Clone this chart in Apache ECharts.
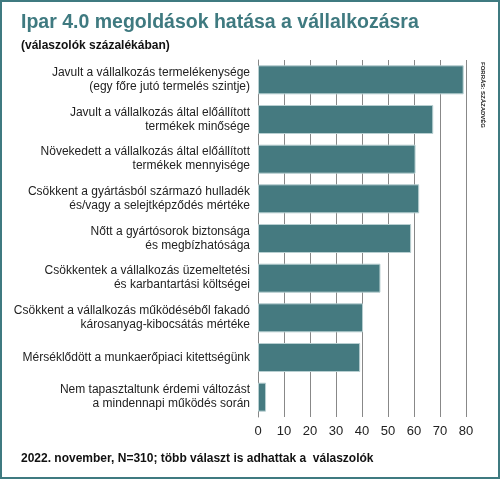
<!DOCTYPE html><html><head><meta charset="utf-8"><script src="https://cdn.jsdelivr.net/npm/echarts@6/dist/echarts.min.js"></script>
<style>body{margin:0}#c{width:500px;height:479px;box-sizing:border-box;border:2px solid #3f7a80}</style></head><body><div id="c"></div><script>
const categories=["Javult a vállalkozás termelékenysége\n(egy főre jutó termelés szintje)","Javult a vállalkozás által előállított\ntermékek minősége","Növekedett a vállalkozás által előállított\ntermékek mennyisége","Csökkent a gyártásból származó hulladék\nés/vagy a selejtképződés mértéke","Nőtt a gyártósorok biztonsága\nés megbízhatósága","Csökkentek a vállalkozás üzemeltetési\nés karbantartási költségei","Csökkent a vállalkozás működéséből fakadó\nkárosanyag-kibocsátás mértéke","Mérséklődött a munkaerőpiaci kitettségünk","Nem tapasztaltunk érdemi változást\na mindennapi működés során"];
const values=[79.1,67.4,60.6,62,58.9,47.1,40.4,39.3,3.1];
const ch=echarts.init(document.getElementById('c'));
const F='Liberation Sans, Arial, sans-serif';
ch.setOption({animation:false,
title:[{text:'Ipar 4.0 megoldások hatása a vállalkozásra',left:14,top:6,textStyle:{color:'#3f7a80',fontSize:19.5,fontWeight:'bold',fontFamily:F}},
{text:'(válaszolók százalékában)',left:14,top:33,textStyle:{color:'#111',fontSize:12,fontWeight:'bold',fontFamily:F}},
{text:'2022. november, N=310; több választ is adhattak a  válaszolók',left:14,top:446,textStyle:{color:'#111',fontSize:12,fontWeight:'bold',fontFamily:F}}],
graphic:[{type:'text',left:478,top:60,rotation:-Math.PI/2,originX:0,originY:0,style:{text:'FORRÁS: SZÁZADVÉG',fontSize:6,fontWeight:'bold',fill:'#222',fontFamily:F},x:476,y:130}],
grid:{left:256,right:32,top:58,bottom:60},
xAxis:{type:'value',min:0,max:80,interval:10,axisLine:{show:false},axisTick:{show:false},
axisLabel:{color:'#222',fontSize:13,fontFamily:F,margin:8},splitLine:{lineStyle:{color:'#888',width:1}}},
yAxis:{type:'category',inverse:true,data:categories,axisLine:{show:true,lineStyle:{color:'#888'}},axisTick:{show:false},
axisLabel:{color:'#222',fontSize:12,fontFamily:F,lineHeight:14,margin:8}},
series:[{type:'bar',data:values,barWidth:29,itemStyle:{color:'#457a80',borderColor:'#b8cfd1',borderWidth:1}}]});
</script></body></html>
